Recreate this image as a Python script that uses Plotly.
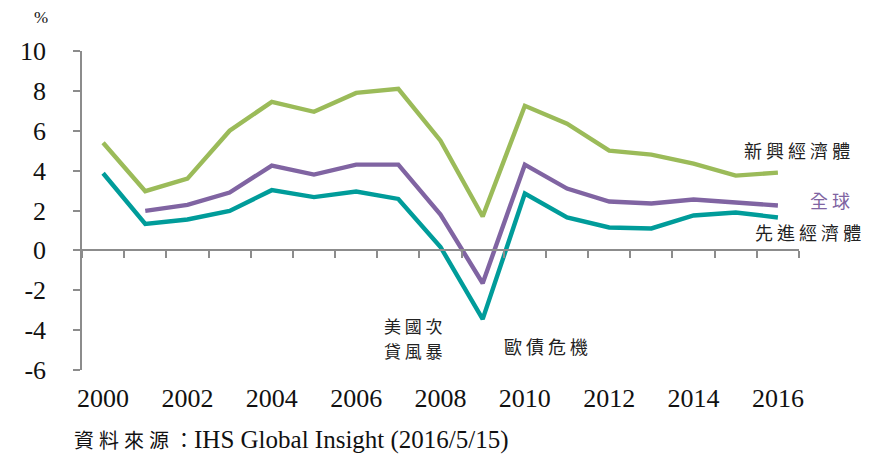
import plotly.graph_objects as go

years = list(range(2000, 2017))
emerging = [5.4, 2.97, 3.6, 6.0, 7.45, 6.95, 7.9, 8.1, 5.5, 1.7, 7.25, 6.35, 5.0, 4.8, 4.35, 3.75, 3.9]
world = [None, 1.98, 2.28, 2.9, 4.25, 3.8, 4.3, 4.3, 1.8, -1.65, 4.3, 3.1, 2.45, 2.35, 2.55, 2.4, 2.25]
advanced = [3.87, 1.33, 1.55, 1.98, 3.02, 2.67, 2.95, 2.58, 0.17, -3.45, 2.85, 1.65, 1.15, 1.1, 1.75, 1.9, 1.65]
xtick_vals = [2000, 2002, 2004, 2006, 2008, 2010, 2012, 2014, 2016]
ytick_vals = [-6, -4, -2, 0, 2, 4, 6, 8, 10]
ytick_text = ["-6", "-4", "-2", "0", "2", "4", "6", "8", "10"]

GREEN = "#9BBB59"
PURPLE = "#8064A2"
TEAL = "#009C9A"
GREY = "#8C8C8C"
SERIF = "Liberation Serif, Times New Roman, serif"
CJK = "Noto Sans CJK TC"

# plot area in window pixels (page has an 8px body margin)
PL, PR, PT, PB = 77, 799, 51, 370
OFF = 8
W, H = 876 - OFF, 454 - OFF

fig = go.Figure()
for name, vals, col in [("新興經濟體", emerging, GREEN), ("全球", world, PURPLE), ("先進經濟體", advanced, TEAL)]:
    fig.add_trace(go.Scatter(x=years, y=vals, mode="lines", name=name,
                             line=dict(color=col, width=4.4), hoverinfo="x+y"))
# dummy trace to carry the zero-line tick axis
fig.add_trace(go.Scatter(x=years, y=[None] * len(years), xaxis="x2", showlegend=False, hoverinfo="skip"))

fig.update_layout(
    width=W, height=H,
    margin=dict(l=PL - OFF, r=W - (PR - OFF), t=PT - OFF, b=H - (PB - OFF)),
    paper_bgcolor="white", plot_bgcolor="white",
    showlegend=False,
    xaxis=dict(range=[1999.5, 2016.5], tickvals=xtick_vals, ticktext=[str(v) for v in xtick_vals],
               showgrid=False, zeroline=False, showline=False, ticks="",
               ticklabelstandoff=10,
               tickfont=dict(family=SERIF, size=26, color="#111")),
    xaxis2=dict(range=[1999.5, 2016.5], overlaying="x", anchor="free", position=0.375,
                tick0=1999.5, dtick=1, ticks="outside", ticklen=7, tickcolor=GREY, tickwidth=1.5,
                showline=True, linecolor=GREY, linewidth=1.5, showticklabels=False,
                showgrid=False, zeroline=False),
    yaxis=dict(range=[-6, 10], tickvals=ytick_vals, ticktext=ytick_text, showgrid=False, zeroline=False,
               showline=True, linecolor=GREY, linewidth=1.5,
               ticks="outside", ticklen=7, tickcolor=GREY, tickwidth=1.5,
               ticklabelstandoff=22,
               tickfont=dict(family=SERIF, size=26, color="#111")),
)


def px(X, Y):
    return (X - PL) / (PR - PL), (PB - Y) / (PB - PT)


ann = [
    dict(text="%", x=36, y=17, size=17, color="#111", fam=SERIF),
    dict(text="新 興 經 濟 體", x=797, y=150, size=18, color="#222", fam=CJK),
    dict(text="全 球", x=830, y=200, size=18, color=PURPLE, fam=CJK),
    dict(text="先 進 經 濟 體", x=808, y=232, size=18, color="#222", fam=CJK),
    dict(text="美 國 次", x=411, y=325, size=17, color="#222", fam=CJK),
    dict(text="貸 風 暴", x=411, y=350, size=17, color="#222", fam=CJK),
    dict(text="歐 債 危 機", x=544, y=346, size=18, color="#222", fam=CJK),
]
for a in ann:
    x, y = px(a["x"], a["y"])
    fig.add_annotation(text=a["text"], xref="paper", yref="paper", x=x, y=y,
                       xanchor="center", yanchor="middle", showarrow=False,
                       font=dict(family=a["fam"], size=a["size"], color=a["color"]))

sx, sy = px(67, 440)
fig.add_annotation(text="<span style='font-size:20px'>資 料 來 源 ：</span>IHS Global Insight (2016/5/15)",
                   xref="paper", yref="paper", x=sx, y=sy,
                   xanchor="left", yanchor="middle", showarrow=False,
                   font=dict(family=SERIF + ", " + CJK, size=25, color="#111"))

fig.write_html("out.html")
